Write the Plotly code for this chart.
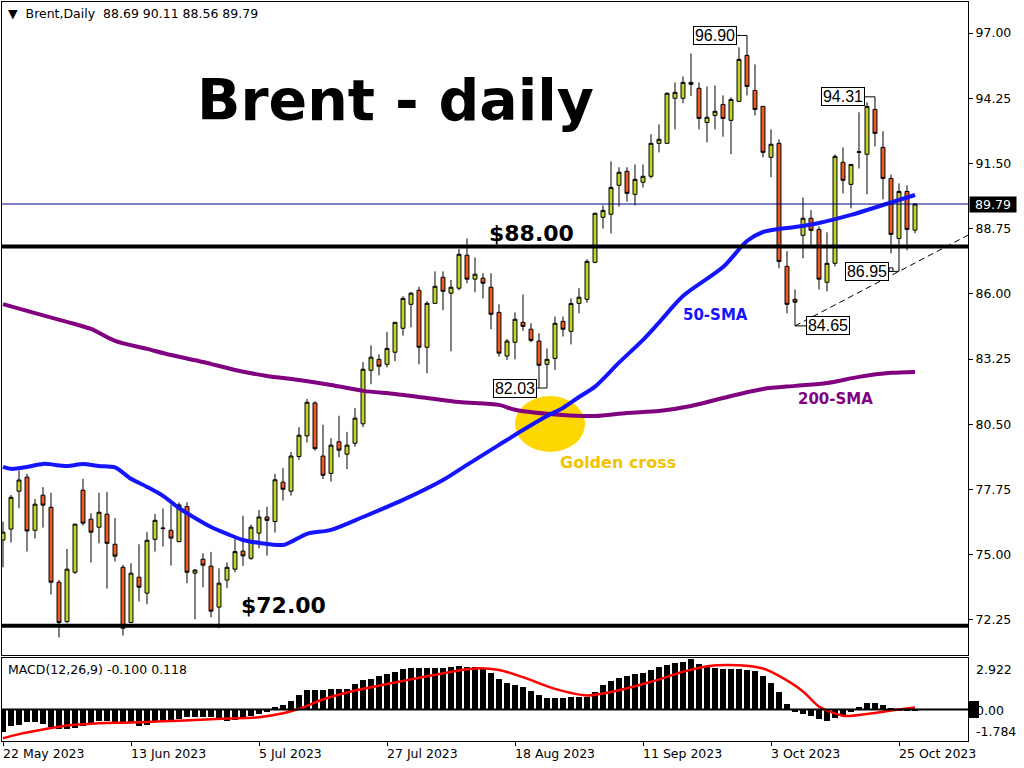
import pandas as pd
import plotly.graph_objects as go

# ---------------- data ----------------
OPEN = [75.62, 76.08, 77.68, 78.27, 76.03, 77.51, 77.00, 73.84, 72.18, 74.26,
        77.72, 76.50, 76.16, 76.71, 75.44, 74.47, 72.14, 74.05, 73.38, 75.65,
        76.10, 76.03, 75.55, 77.03, 74.22, 74.81, 74.52, 72.79, 73.93, 74.39,
        75.15, 74.85, 75.91, 76.59, 76.40, 78.06, 77.68, 79.14, 80.01, 81.40,
        79.16, 78.43, 79.76, 79.24, 79.70, 80.52, 82.78, 83.24, 83.03, 83.54,
        84.55, 85.56, 86.15, 83.75, 85.60, 86.70, 86.03, 86.24, 87.63, 86.62,
        86.66, 86.28, 85.22, 83.38, 83.96, 84.80, 84.51, 84.01, 83.03, 83.28,
        84.84, 84.42, 85.60, 85.77, 87.33, 89.23, 89.36, 90.58, 91.17, 90.20,
        90.71, 90.96, 92.35, 92.35, 94.25, 94.25, 94.92, 94.67, 93.23, 93.53,
        93.99, 93.32, 94.12, 96.06, 94.58, 93.91, 91.76, 92.35, 87.16, 85.77,
        88.47, 89.19, 88.72, 86.49, 87.29, 91.55, 90.62, 91.97, 91.89, 93.78,
        92.18, 90.87, 88.34, 90.32, 88.69]
HIGH = [76.40, 77.52, 78.55, 78.41, 77.35, 77.85, 77.61, 73.94, 75.24, 76.30,
        78.20, 76.75, 77.61, 77.65, 76.55, 74.57, 74.64, 75.44, 75.95, 76.72,
        76.95, 77.10, 77.21, 77.21, 74.40, 75.06, 75.12, 74.43, 74.67, 75.70,
        76.64, 76.27, 76.89, 77.02, 78.41, 78.65, 79.33, 80.38, 81.57, 81.47,
        80.48, 79.91, 80.86, 80.18, 81.18, 83.12, 83.83, 83.45, 84.39, 84.80,
        85.90, 86.07, 86.30, 85.69, 86.95, 86.95, 86.59, 87.89, 88.34, 87.54,
        86.87, 86.87, 85.56, 84.10, 85.22, 85.97, 84.76, 84.34, 83.70, 85.04,
        85.04, 85.81, 86.24, 87.46, 89.42, 89.73, 91.59, 91.34, 91.34, 91.46,
        91.46, 92.73, 93.15, 94.50, 94.92, 95.17, 96.14, 94.92, 94.75, 94.79,
        94.37, 94.29, 96.40, 96.90, 95.68, 93.91, 92.94, 92.52, 87.80, 86.19,
        90.07, 89.53, 88.85, 88.60, 91.88, 92.18, 91.46, 93.66, 94.08, 94.31,
        92.86, 91.04, 90.66, 90.58, 89.83]
LOW = [74.47, 75.51, 76.96, 75.13, 75.68, 76.14, 73.32, 71.51, 72.11, 74.18,
       76.23, 74.67, 75.48, 73.57, 74.71, 71.59, 72.11, 73.03, 72.91, 75.13,
       75.34, 74.54, 75.53, 73.80, 72.28, 73.63, 72.36, 71.90, 73.59, 74.26,
       74.53, 74.78, 75.27, 74.96, 75.93, 77.28, 77.49, 79.00, 79.73, 79.39,
       78.19, 78.08, 79.11, 78.61, 79.56, 80.38, 82.19, 82.57, 82.90, 83.16,
       84.24, 84.59, 83.03, 82.65, 85.60, 85.31, 83.58, 86.15, 86.45, 86.07,
       85.81, 84.51, 83.35, 83.21, 83.24, 84.44, 83.96, 82.05, 82.03, 82.79,
       84.20, 83.87, 85.18, 85.63, 87.29, 88.75, 88.55, 89.68, 89.89, 89.73,
       90.49, 90.87, 91.97, 92.35, 92.94, 94.04, 94.34, 92.94, 92.39, 92.94,
       92.63, 91.89, 94.12, 94.37, 93.53, 91.76, 90.92, 87.08, 85.18, 84.65,
       87.50, 87.92, 86.19, 86.11, 87.16, 90.24, 89.61, 91.29, 90.20, 92.22,
       89.99, 87.71, 86.95, 87.84, 88.56]
CLOSE = [75.95, 77.42, 78.15, 76.00, 77.13, 77.09, 73.84, 72.14, 74.39, 76.29,
         76.33, 75.95, 76.79, 75.48, 74.94, 71.90, 74.22, 73.63, 75.61, 76.45,
         76.12, 75.70, 77.10, 74.26, 74.35, 74.56, 72.62, 73.80, 74.47, 75.13,
         74.95, 76.16, 76.59, 76.45, 78.16, 77.76, 79.16, 80.04, 81.43, 79.47,
         78.35, 79.62, 79.41, 79.62, 80.76, 82.82, 83.33, 82.95, 83.70, 84.80,
         85.81, 86.03, 83.75, 85.60, 86.32, 86.11, 86.28, 87.67, 86.62, 86.83,
         86.45, 85.14, 83.50, 84.01, 84.93, 84.63, 84.04, 82.99, 83.24, 84.76,
         84.51, 85.59, 85.86, 87.37, 89.40, 89.52, 90.49, 91.13, 90.24, 90.83,
         90.96, 92.35, 92.52, 94.46, 94.50, 94.92, 94.84, 93.40, 93.45, 93.70,
         93.40, 94.20, 95.89, 94.75, 93.78, 91.97, 92.31, 87.37, 85.56, 85.65,
         89.19, 88.68, 86.62, 87.29, 91.80, 90.79, 91.46, 91.99, 93.91, 92.77,
         90.87, 88.51, 90.32, 88.72, 89.79]

SMA50_X = [0, 1, 3, 5, 8, 10, 12, 14, 16, 18, 20, 22, 24, 26, 28, 30, 32, 35, 36,
           38, 41, 45, 50, 55, 58, 62, 65, 68, 70, 72, 74, 77, 80, 82, 85,
           90, 93, 95, 97, 99, 102, 106, 110, 114]
SMA50_Y = [78.70, 78.62, 78.70, 78.83, 78.74, 78.83, 78.74, 78.68, 78.20, 77.86,
           77.48, 76.97, 76.55, 76.17, 75.88, 75.62, 75.50, 75.41, 75.54, 75.88,
           76.05, 76.59, 77.31, 78.15, 78.79, 79.63, 80.26, 80.85, 81.19, 81.65,
           82.09, 83.10, 84.06, 84.79, 85.91, 87.13, 88.23, 88.61, 88.74,
           88.82, 88.99, 89.33, 89.75, 90.17]
SMA200_X = [0, 4, 8, 11, 14, 18, 21, 25, 29, 33, 37, 41, 45, 49, 53, 57, 62, 64,
            70, 74, 78, 82, 86, 90, 95, 99, 103, 107, 111, 114]
SMA200_Y = [85.57, 85.19, 84.82, 84.52, 84.02, 83.68, 83.42, 83.13, 82.79, 82.54,
            82.37, 82.16, 81.91, 81.78, 81.61, 81.44, 81.32, 81.11, 80.89, 80.85,
            80.98, 81.06, 81.27, 81.61, 81.99, 82.12, 82.24, 82.50, 82.67, 82.71]

MACD_MAIN = [-1.33, -0.94, -0.88, -0.75, -0.75, -0.84, -1.00, -1.14, -1.14, -1.08,
             -0.94, -0.84, -0.69, -0.69, -0.71, -0.73, -0.80, -0.94, -0.88, -0.75,
             -0.65, -0.59, -0.53, -0.45, -0.41, -0.45, -0.45, -0.55, -0.65, -0.61,
             -0.45, -0.35, -0.25, -0.16, 0.14, 0.29, 0.50, 0.85, 1.14, 1.16,
             1.16, 1.18, 1.18, 1.22, 1.51, 1.71, 1.80, 1.94, 2.06, 2.20,
             2.35, 2.39, 2.39, 2.43, 2.43, 2.43, 2.49, 2.53, 2.49, 2.45,
             2.39, 2.10, 1.80, 1.57, 1.45, 1.31, 1.08, 0.82, 0.69, 0.67,
             0.67, 0.71, 0.73, 0.73, 1.02, 1.41, 1.67, 1.86, 1.96, 2.06,
             2.14, 2.29, 2.45, 2.59, 2.69, 2.75, 2.92, 2.63, 2.49, 2.39,
             2.35, 2.35, 2.35, 2.29, 2.25, 1.94, 1.57, 1.02, 0.33, -0.12,
             -0.26, -0.39, -0.57, -0.67, -0.47, -0.31, -0.16, 0.12, 0.36, 0.40,
             0.26, 0.06, -0.06, -0.10, -0.10]
SIGNAL_X = [0, 2, 5, 7, 9, 12, 16, 20, 24, 28, 32, 35, 37, 40, 44, 48, 53, 57, 59,
            62, 65, 69, 73, 77, 81, 85, 88, 92, 95, 97, 100, 102, 105, 106, 109,
            111, 114]
SIGNAL_Y = [-1.67, -1.43, -1.16, -1.00, -0.89, -0.80, -0.76, -0.69, -0.61, -0.53,
            -0.45, -0.22, 0.04, 0.58, 1.10, 1.48, 1.93, 2.27, 2.39, 2.30, 1.88,
            1.20, 0.82, 1.12, 1.61, 2.19, 2.52, 2.57, 2.38, 1.95, 1.05, 0.17,
            -0.36, -0.37, -0.20, -0.06, 0.118]

PRICE_TICKS = [72.25, 75.00, 77.75, 80.50, 83.25, 86.00, 88.75, 91.50, 94.25, 97.00]
LEVELS = [88.00, 72.00]
TREND_BARS = [99, 112]          # trendline through these lows
TICK_DATES = ["2023-05-22", "2023-06-13", "2023-07-05", "2023-07-27",
              "2023-08-18", "2023-09-11", "2023-10-03", "2023-10-25"]
MACD_LABELS = ["2.922", "0.00", "-1.784"]
HEADER_OHLC = [88.69, 90.11, 88.56, 89.79]
MACD_HEADER = [-0.100, 0.118]
CALLOUTS = [(93, "high", "left"), (109, "high", "left"), (68, "low", "left"),
            (99, "low", "right"), (112, "low", "left")]

# ---------------- geometry / style ----------------
W, H = 1024, 768
PL, PR, PT, PB = 2, 968, 2, 741      # plot area in pixels
BAR_PX, BAR0_PX = 8, 3
XMIN = (PL - BAR0_PX) / BAR_PX
XMAX = (PR - BAR0_PX) / BAR_PX
BULL, BEAR = "#C3D42B", "#F05A23"
FONT = "DejaVu Sans"


def px_x(px):
    return (px - PL) / (PR - PL)


def px_y(py):
    return (PB - py) / (PB - PT)


dates = pd.bdate_range("2023-05-22", periods=len(OPEN))
idx = list(range(len(OPEN)))
tick_idx = [dates.get_loc(pd.Timestamp(d)) for d in TICK_DATES]
tick_txt = [pd.Timestamp(d).strftime("%-d %b %Y") for d in TICK_DATES]

fig = go.Figure()

# MACD panel
fig.add_trace(go.Bar(x=idx, y=MACD_MAIN, width=0.72, marker=dict(color="black", line=dict(width=0)),
                     xaxis="x", yaxis="y", hoverinfo="skip"))
fig.add_trace(go.Scatter(x=SIGNAL_X, y=SIGNAL_Y, mode="lines",
                         line=dict(color="#FF0000", width=2.5, shape="spline", smoothing=0.8),
                         xaxis="x", yaxis="y", hoverinfo="skip"))

# main panel
fig.add_trace(go.Candlestick(x=idx, open=OPEN, high=HIGH, low=LOW, close=CLOSE,
                             xaxis="x2", yaxis="y2", whiskerwidth=0,
                             increasing=dict(fillcolor=BULL, line=dict(color="black", width=1)),
                             decreasing=dict(fillcolor=BEAR, line=dict(color="black", width=1)),
                             hoverinfo="skip"))
fig.add_trace(go.Scatter(x=SMA200_X, y=SMA200_Y, mode="lines",
                         line=dict(color="#800080", width=4, shape="spline", smoothing=0.8),
                         xaxis="x2", yaxis="y2", hoverinfo="skip"))
fig.add_trace(go.Scatter(x=SMA50_X, y=SMA50_Y, mode="lines",
                         line=dict(color="#1414FF", width=4, shape="spline", smoothing=0.8),
                         xaxis="x2", yaxis="y2", hoverinfo="skip"))

shapes = []
# golden cross highlight
shapes.append(dict(type="circle", xref="paper", yref="paper", layer="below",
                   x0=px_x(515), x1=px_x(585), y0=px_y(452), y1=px_y(396),
                   fillcolor="#FFD700", line=dict(width=0)))
# bid line
shapes.append(dict(type="line", xref="paper", yref="y2", x0=0, x1=1,
                   y0=CLOSE[-1], y1=CLOSE[-1], line=dict(color="#000080", width=1)))
# support / resistance levels
for lv in LEVELS:
    shapes.append(dict(type="line", xref="paper", yref="y2", x0=0, x1=1,
                       y0=lv, y1=lv, line=dict(color="black", width=4)))
# trendline
b0, b1 = TREND_BARS
slope = (LOW[b1] - LOW[b0]) / (b1 - b0)
shapes.append(dict(type="line", xref="x2", yref="y2", x0=b0, y0=LOW[b0],
                   x1=XMAX, y1=LOW[b0] + slope * (XMAX - b0),
                   line=dict(color="black", width=1, dash="6px,4px")))
# MACD zero line
shapes.append(dict(type="line", xref="paper", yref="y", x0=0, x1=1, y0=0, y1=0,
                   line=dict(color="black", width=2)))
shapes.append(dict(type="rect", xref="paper", yref="paper", x0=px_x(969), x1=px_x(979),
                   y0=px_y(718), y1=px_y(701), fillcolor="black", line=dict(width=0)))

annotations = []
# callout price labels
for bar, kind, side in CALLOUTS:
    price = HIGH[bar] if kind == "high" else LOW[bar]
    off = -10 if side == "left" else 11
    annotations.append(dict(x=bar, y=price, xref="x2", yref="y2", text=f"{price:.2f}",
                            showarrow=False, xanchor="right" if side == "left" else "left",
                            yanchor="middle", xshift=off, bgcolor="white", bordercolor="black",
                            borderwidth=1, borderpad=1, width=40, height=15,
                            font=dict(family="Liberation Sans", size=16, color="black")))
    shapes.append(dict(type="line", xref="x2", yref="y2", xsizemode="pixel", xanchor=bar,
                       x0=off, x1=0, y0=price, y1=price, line=dict(color="black", width=1)))
    if bar == TREND_BARS[1]:
        shapes.append(dict(type="rect", xref="x2", yref="y2", xsizemode="pixel", xanchor=bar,
                           ysizemode="pixel", yanchor=price, x0=off, x1=off + 4, y0=0, y1=3.5,
                           fillcolor="white", line=dict(color="black", width=1)))

def txt(px, py, text, size, color, bold=True, anchor="center", family=FONT):
    annotations.append(dict(x=px_x(px), y=px_y(py), xref="paper", yref="paper", text=text,
                            showarrow=False, xanchor=anchor, yanchor="middle",
                            font=dict(family=family, size=size, color=color,
                                      weight="bold" if bold else "normal")))

txt(395, 100, "Brent - daily", 57, "black")
txt(531, 234, f"${LEVELS[0]:.2f}", 22, "black")
txt(283, 605, f"${LEVELS[1]:.2f}", 22, "black")
txt(715, 315, "50-SMA", 15, "#1414FF")
txt(835, 399, "200-SMA", 15, "#800080")
txt(618, 462, "Golden cross", 16, "#F2C300")
txt(6, 14, "▼  Brent,Daily  " + " ".join(f"{v:.2f}" for v in HEADER_OHLC), 12.5, "black", bold=False, anchor="left")
txt(6, 669, "MACD(12,26,9) " + " ".join(f"{v:.3f}" for v in MACD_HEADER), 12.5, "black", bold=False, anchor="left")
for lab, py in zip(MACD_LABELS, [669, 710, 731]):
    txt(974, py, lab, 12.5, "black", bold=False, anchor="left")

# current price box on the axis
annotations.append(dict(x=1, y=CLOSE[-1], xref="paper", yref="y2", text=f"{CLOSE[-1]:.2f}",
                        showarrow=False, xanchor="left", yanchor="middle", xshift=1,
                        bgcolor="black", borderpad=1, width=44, height=13,
                        font=dict(family=FONT, size=12.5, color="white")))
# date labels
for ti, tt in zip(tick_idx, tick_txt):
    annotations.append(dict(x=ti, y=px_y(744), xref="x", yref="paper", text=tt, showarrow=False,
                            xanchor="left", yanchor="top", xshift=-2,
                            font=dict(family=FONT, size=12.5, color="black")))

axis_common = dict(showgrid=False, zeroline=False, showline=True, mirror=True,
                   linecolor="black", linewidth=1)

fig.update_layout(
    width=W, height=H, margin=dict(l=PL, r=W - PR, t=PT, b=H - PB),
    paper_bgcolor="white", plot_bgcolor="white", showlegend=False, bargap=0,
    xaxis=dict(domain=[0, 1], range=[XMIN, XMAX], anchor="y", ticks="outside",
               tickvals=tick_idx, ticklen=4, tickcolor="black", showticklabels=False,
               rangeslider=dict(visible=False), **axis_common),
    yaxis=dict(domain=[0, (PB - 658) / (PB - PT)], range=[-1.831, 2.994], anchor="x",
               showticklabels=False, ticks="", **axis_common),
    xaxis2=dict(domain=[0, 1], matches="x", anchor="y2", showticklabels=False, ticks="",
                rangeslider=dict(visible=False), **axis_common),
    yaxis2=dict(domain=[(PB - 655) / (PB - PT), 1], range=[70.77, 98.31], anchor="x2",
                side="right", ticks="outside", ticklen=4, tickcolor="black",
                tickvals=PRICE_TICKS, ticktext=[f"{v:.2f}" for v in PRICE_TICKS],
                tickfont=dict(family=FONT, size=12.5, color="black"), **axis_common),
    shapes=shapes, annotations=annotations,
)

fig.write_html("out.html", config={"displayModeBar": False},
               post_script="document.body.style.margin='0';document.body.style.overflow='hidden';")
